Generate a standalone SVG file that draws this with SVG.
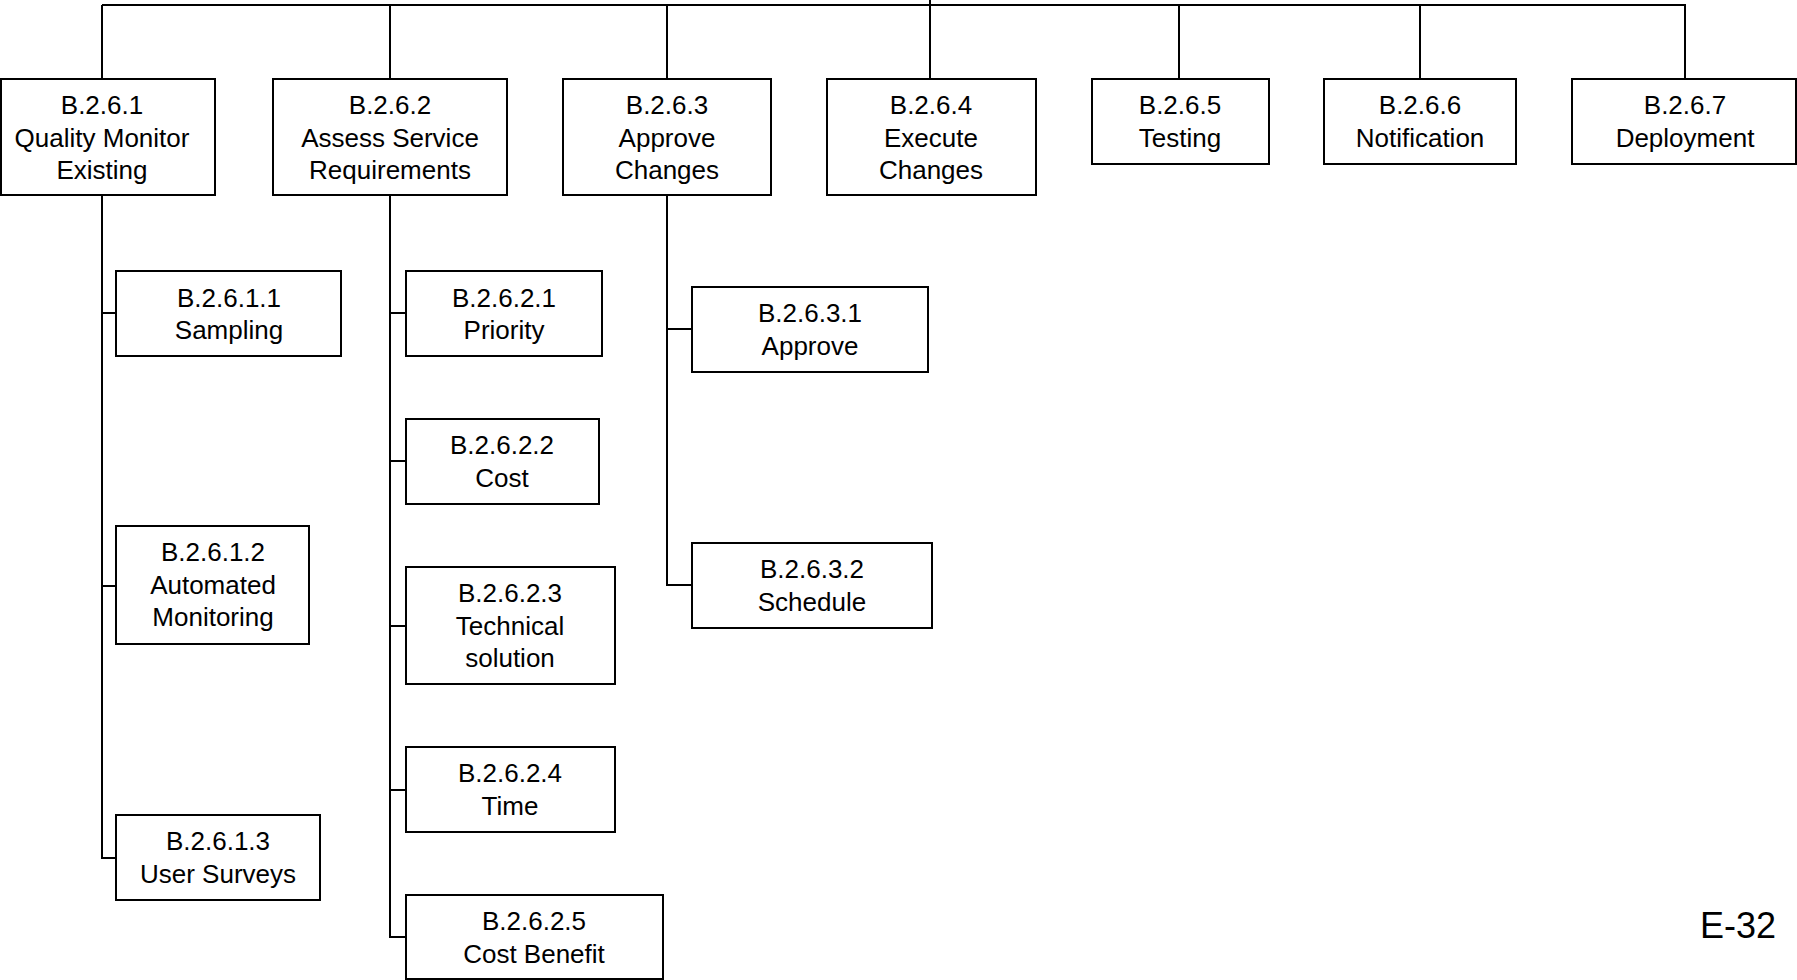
<svg xmlns="http://www.w3.org/2000/svg" width="1797" height="980" viewBox="0 0 1797 980">
<style>
.b{fill:#fff;stroke:#000;stroke-width:2}
.t{font-family:"Liberation Sans",Arial,sans-serif;font-size:26px;fill:#000;text-anchor:middle}
.c{stroke:#000;stroke-width:2;fill:none}
</style>
<rect width="1797" height="980" fill="#fff"/>
<g id="connectors">
<line class="c" x1="930" y1="0" x2="930" y2="79" stroke-width="2.5"/>
<line class="c" x1="102" y1="5" x2="1686" y2="5"/>
<line class="c" x1="102" y1="5" x2="102" y2="79"/>
<line class="c" x1="390" y1="5" x2="390" y2="79"/>
<line class="c" x1="667" y1="5" x2="667" y2="79"/>
<line class="c" x1="1179" y1="5" x2="1179" y2="79"/>
<line class="c" x1="1420" y1="5" x2="1420" y2="79"/>
<line class="c" x1="1685" y1="5" x2="1685" y2="79"/>
<polyline class="c" points="102,195 102,858 116,858"/>
<line class="c" x1="102" y1="313" x2="116" y2="313"/>
<line class="c" x1="102" y1="586" x2="116" y2="586"/>
<polyline class="c" points="390,195 390,937 406,937"/>
<line class="c" x1="390" y1="313" x2="406" y2="313"/>
<line class="c" x1="390" y1="461" x2="406" y2="461"/>
<line class="c" x1="390" y1="626" x2="406" y2="626"/>
<line class="c" x1="390" y1="790" x2="406" y2="790"/>
<polyline class="c" points="667,195 667,585 692,585"/>
<line class="c" x1="667" y1="329" x2="692" y2="329"/>
</g>
<g id="n1"><rect class="b" x="1" y="79" width="214" height="116"/><text class="t" x="102" y="114">B.2.6.1</text><text class="t" x="102" y="147">Quality Monitor</text><text class="t" x="102" y="179">Existing</text></g>
<g id="n2"><rect class="b" x="273" y="79" width="234" height="116"/><text class="t" x="390" y="114">B.2.6.2</text><text class="t" x="390" y="147">Assess Service</text><text class="t" x="390" y="179">Requirements</text></g>
<g id="n3"><rect class="b" x="563" y="79" width="208" height="116"/><text class="t" x="667" y="114">B.2.6.3</text><text class="t" x="667" y="147">Approve</text><text class="t" x="667" y="179">Changes</text></g>
<g id="n4"><rect class="b" x="827" y="79" width="209" height="116"/><text class="t" x="931" y="114">B.2.6.4</text><text class="t" x="931" y="147">Execute</text><text class="t" x="931" y="179">Changes</text></g>
<g id="n5"><rect class="b" x="1092" y="79" width="177" height="85"/><text class="t" x="1180" y="114">B.2.6.5</text><text class="t" x="1180" y="147">Testing</text></g>
<g id="n6"><rect class="b" x="1324" y="79" width="192" height="85"/><text class="t" x="1420" y="114">B.2.6.6</text><text class="t" x="1420" y="147">Notification</text></g>
<g id="n7"><rect class="b" x="1572" y="79" width="224" height="85"/><text class="t" x="1685" y="114">B.2.6.7</text><text class="t" x="1685" y="147">Deployment</text></g>
<g id="n11"><rect class="b" x="116" y="271" width="225" height="85"/><text class="t" x="229" y="307">B.2.6.1.1</text><text class="t" x="229" y="339">Sampling</text></g>
<g id="n12"><rect class="b" x="116" y="526" width="193" height="118"/><text class="t" x="213" y="561">B.2.6.1.2</text><text class="t" x="213" y="594">Automated</text><text class="t" x="213" y="626">Monitoring</text></g>
<g id="n13"><rect class="b" x="116" y="815" width="204" height="85"/><text class="t" x="218" y="850">B.2.6.1.3</text><text class="t" x="218" y="883">User Surveys</text></g>
<g id="n21"><rect class="b" x="406" y="271" width="196" height="85"/><text class="t" x="504" y="307">B.2.6.2.1</text><text class="t" x="504" y="339">Priority</text></g>
<g id="n22"><rect class="b" x="406" y="419" width="193" height="85"/><text class="t" x="502" y="454">B.2.6.2.2</text><text class="t" x="502" y="487">Cost</text></g>
<g id="n23"><rect class="b" x="406" y="567" width="209" height="117"/><text class="t" x="510" y="602">B.2.6.2.3</text><text class="t" x="510" y="635">Technical</text><text class="t" x="510" y="667">solution</text></g>
<g id="n24"><rect class="b" x="406" y="747" width="209" height="85"/><text class="t" x="510" y="782">B.2.6.2.4</text><text class="t" x="510" y="815">Time</text></g>
<g id="n25"><rect class="b" x="406" y="895" width="257" height="84"/><text class="t" x="534" y="930">B.2.6.2.5</text><text class="t" x="534" y="963">Cost Benefit</text></g>
<g id="n31"><rect class="b" x="692" y="287" width="236" height="85"/><text class="t" x="810" y="322">B.2.6.3.1</text><text class="t" x="810" y="355">Approve</text></g>
<g id="n32"><rect class="b" x="692" y="543" width="240" height="85"/><text class="t" x="812" y="578">B.2.6.3.2</text><text class="t" x="812" y="611">Schedule</text></g>
<text x="1776" y="938" font-family="'Liberation Sans',Arial,sans-serif" font-size="36" text-anchor="end">E-32</text>
</svg>
